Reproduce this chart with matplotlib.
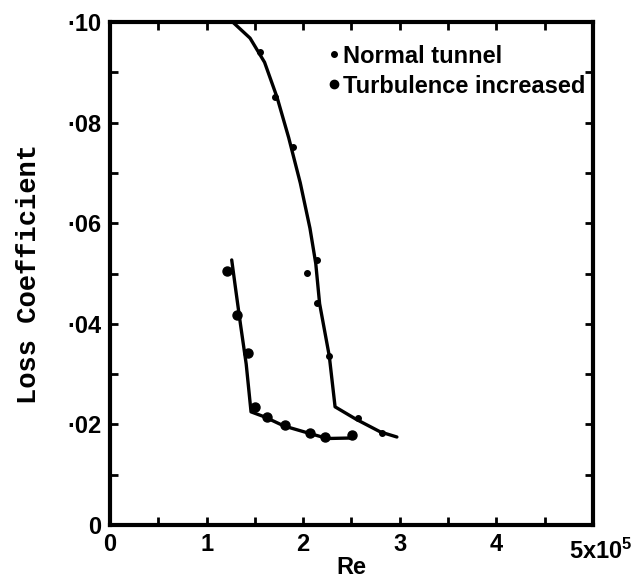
import matplotlib

matplotlib.use("Agg")
import matplotlib.pyplot as plt  # noqa: E402
from matplotlib.lines import Line2D  # noqa: E402
from matplotlib.ticker import FixedLocator, FixedFormatter, MultipleLocator  # noqa: E402

plt.rcParams["font.family"] = ["Liberation Sans", "DejaVu Sans"]
plt.rcParams["mathtext.default"] = "regular"

# measured points (Re in units of 1e5)
re_normal = [1.55, 1.71, 1.89, 2.04, 2.14, 2.14, 2.27, 2.57, 2.82]
loss_normal = [0.0940, 0.0851, 0.0751, 0.0501, 0.0527, 0.0441, 0.0336, 0.0213, 0.0183]

re_turb = [1.21, 1.31, 1.43, 1.50, 1.63, 1.81, 2.07, 2.23, 2.51]
loss_turb = [0.0505, 0.0417, 0.0342, 0.0235, 0.0215, 0.0199, 0.0183, 0.0175, 0.0179]

# hand-drawn fair curves through them
curve_normal_re = [1.27, 1.45, 1.60, 1.73, 1.85, 1.97, 2.07, 2.13, 2.17, 2.27, 2.33, 2.55, 2.80, 2.97]
curve_normal_loss = [0.100, 0.0968, 0.0920, 0.0850, 0.0770, 0.0680, 0.0590, 0.0520, 0.0440,
                     0.0336, 0.0235, 0.0210, 0.0185, 0.0175]

curve_turb_re = [1.26, 1.30, 1.35, 1.41, 1.46, 1.60, 1.80, 2.05, 2.25, 2.50]
curve_turb_loss = [0.0527, 0.0470, 0.0400, 0.0320, 0.0225, 0.0215, 0.0197, 0.0183, 0.0172, 0.0173]

xticks = [0, 1, 2, 3, 4, 5]
xtick_labels = ["0", "1", "2", "3", "4", ""]
yticks = [0, 0.02, 0.04, 0.06, 0.08, 0.10]
ytick_labels = ["0", "·02", "·04", "·06", "·08", "·10"]

fig = plt.figure(figsize=(6.41, 5.80), dpi=100)
ax = fig.add_axes([0.1716, 0.0948, 0.7535, 0.8672])

ax.plot(curve_normal_re, curve_normal_loss, color="black", linewidth=2.4, solid_capstyle="round")
ax.plot(curve_turb_re, curve_turb_loss, color="black", linewidth=2.4, solid_capstyle="round")
ax.plot(re_normal, loss_normal, "o", color="black", markersize=4, linestyle="none")
ax.plot(re_turb, loss_turb, "o", color="black", markersize=6.5, linestyle="none")

ax.set_xlim(0, 5)
ax.set_ylim(0, 0.10)

ax.xaxis.set_major_locator(FixedLocator(xticks))
ax.xaxis.set_major_formatter(FixedFormatter(xtick_labels))
ax.xaxis.set_minor_locator(MultipleLocator(0.5))
ax.yaxis.set_major_locator(FixedLocator(yticks))
ax.yaxis.set_major_formatter(FixedFormatter(ytick_labels))
ax.yaxis.set_minor_locator(MultipleLocator(0.01))

for which in ("major", "minor"):
    ax.tick_params(axis="both", which=which, direction="in", length=6, width=2,
                   top=True, right=True, pad=6)
ax.tick_params(axis="both", which="major", labelsize=17)
for lab in ax.get_xticklabels() + ax.get_yticklabels():
    lab.set_fontweight("bold")

for sp in ax.spines.values():
    sp.set_linewidth(3)

ax.annotate("5x10$^5$", xy=(5, 0), xycoords=("data", "axes fraction"),
            xytext=(-17, -10), textcoords="offset points", ha="left", va="top",
            fontsize=17, fontweight="bold")

ax.set_xlabel("Re", fontsize=17, fontweight="bold", labelpad=0)
ax.set_ylabel("Loss Coefficient", fontsize=19.5, fontweight="bold",
              family=["Liberation Mono", "DejaVu Sans Mono"], labelpad=18)

handles = [
    Line2D([], [], marker="o", color="black", markersize=4, linestyle="none"),
    Line2D([], [], marker="o", color="black", markersize=6, linestyle="none"),
]
ax.legend(handles, ["Normal tunnel", "Turbulence increased"], loc="upper left",
          bbox_to_anchor=(0.455, 0.955), frameon=False,
          prop={"size": 17, "weight": "bold"},
          handlelength=0.4, handletextpad=0.15, labelspacing=0.3, borderpad=0,
          borderaxespad=0)

fig.savefig("out.png", dpi=100)
